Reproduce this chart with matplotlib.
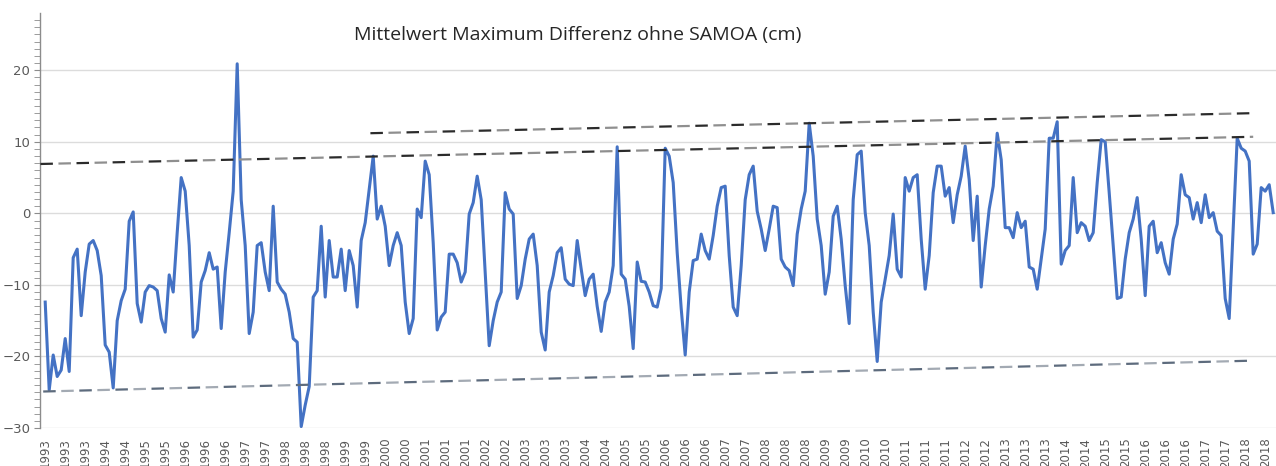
import matplotlib
matplotlib.use("Agg")
import matplotlib.pyplot as plt
import numpy as np

plt.rcParams['lines.scale_dashes'] = False

title = "Mittelwert Maximum Differenz ohne SAMOA (cm)"

# monthly values (cm), Feb 1993 .. Sep 2018
values = [
    -12.4, -24.7, -19.8, -22.8, -21.9, -17.5, -22.1, -6.2, -5.0, -14.3,
    -8.2, -4.3, -3.8, -5.2, -8.7, -18.4, -19.4, -24.4, -15.0, -12.2,
    -10.6, -1.1, 0.2, -12.6, -15.2, -11.0, -10.1, -10.3, -10.8, -14.7,
    -16.6, -8.6, -11.0, -2.7, 5.0, 3.1, -4.5, -17.3, -16.3, -9.6,
    -8.0, -5.5, -7.8, -7.5, -16.1, -8.2, -2.7, 3.1, 20.9, 1.9,
    -4.5, -16.8, -13.8, -4.5, -4.1, -8.2, -10.8, 1.0, -9.6, -10.6,
    -11.3, -13.8, -17.5, -18.0, -29.8, -26.8, -24.2, -11.7, -10.8, -1.8,
    -11.7, -3.8, -8.9, -8.9, -5.0, -10.8, -5.2, -7.3, -13.1, -3.8,
    -1.3, 3.3, 8.0, -0.8, 1.0, -1.8, -7.3, -4.5, -2.7, -4.5,
    -12.4, -16.8, -14.7, 0.6, -0.6, 7.3, 5.4, -4.1, -16.3, -14.5,
    -13.8, -5.7, -5.7, -6.9, -9.6, -8.2, -0.1, 1.5, 5.2, 1.9,
    -8.2, -18.5, -15.0, -12.4, -11.0, 2.9, 0.6, -0.1, -11.9, -10.1,
    -6.4, -3.6, -2.9, -7.3, -16.6, -19.1, -11.0, -8.7, -5.5, -4.8,
    -9.2, -9.9, -10.1, -3.8, -7.8, -11.5, -9.2, -8.5, -13.0, -16.5,
    -12.4, -11.0, -7.3, 9.3, -8.5, -9.2, -13.0, -18.9, -6.8, -9.5,
    -9.6, -11.0, -12.9, -13.1, -10.5, 9.1, 8.0, 4.3, -5.5, -13.3,
    -19.8, -11.0, -6.6, -6.4, -2.9, -5.2, -6.4, -3.1, 1.0, 3.6,
    3.8, -5.9, -13.1, -14.3, -7.3, 1.9, 5.4, 6.6, 0.3, -2.2,
    -5.2, -2.2, 1.0, 0.8, -6.4, -7.5, -8.0, -10.1, -2.9, 0.6,
    3.1, 12.6, 8.0, -0.8, -4.5, -11.3, -8.2, -0.4, 1.0, -3.6,
    -10.1, -15.4, 1.9, 8.2, 8.7, 0.1, -4.5, -13.8, -20.7, -12.4,
    -9.2, -5.9, -0.1, -7.8, -8.9, 5.0, 3.1, 5.0, 5.4, -3.6,
    -10.6, -5.9, 2.9, 6.6, 6.6, 2.4, 3.6, -1.3, 2.6, 5.2,
    9.4, 4.7, -3.8, 2.4, -10.3, -4.5, 0.6, 3.8, 11.2, 7.5,
    -2.0, -2.0, -3.4, 0.1, -2.0, -1.1, -7.5, -7.8, -10.6, -6.4,
    -2.2, 10.5, 10.5, 12.8, -7.1, -5.2, -4.5, 5.0, -2.7, -1.3,
    -1.8, -3.8, -2.7, 4.3, 10.3, 10.0, 2.9, -4.5, -11.9, -11.7,
    -6.4, -2.7, -0.8, 2.2, -3.6, -11.5, -1.8, -1.1, -5.5, -4.1,
    -6.9, -8.5, -3.6, -1.5, 5.4, 2.6, 2.2, -0.8, 1.5, -1.3,
    2.6, -0.6, 0.1, -2.5, -3.1, -11.9, -14.7, -2.0, 10.5, 9.1,
    8.7, 7.3, -5.7, -4.3, 3.6, 3.1, 4.0, 0.1,
]

# category labels shown every 5th month
tick_labels = [
    "1993", "1993", "1993", "1994", "1994", "1995", "1995", "1996", "1996", "1996",
    "1997", "1997", "1998", "1998", "1998", "1999", "1999", "2000", "2000", "2001",
    "2001", "2001", "2002", "2002", "2003", "2003", "2003", "2004", "2004", "2005",
    "2005", "2006", "2006", "2006", "2007", "2007", "2008", "2008", "2008", "2009",
    "2009", "2010", "2010", "2011", "2011", "2011", "2012", "2012", "2013", "2013",
    "2013", "2014", "2014", "2015", "2015", "2016", "2016", "2016", "2017", "2017",
    "2018", "2018",
]
tick_step = 5

# hand-drawn envelope lines (index, value)
upper_line_x = [-1.2, 302]
upper_line_y = [6.9, 10.7]
top_line_x = [81.3, 301.8]
top_line_y = [11.2, 14.0]
lower_line_x = [-0.5, 301]
lower_line_y = [-24.9, -20.6]

fig = plt.figure(figsize=(12.76, 4.66), dpi=100)
ax = fig.add_axes([40/1276, 1-428/466, 1-40/1276, (428-13)/466])

x = np.arange(len(values))
ax.plot(x, values, color="#4472C4", lw=2.2, solid_joinstyle="round", zorder=3)

def dashed(xs, ys, c1, c2):
    on, off = 9.0, 4.0
    period = 2 * (on + off)
    ax.plot(xs, ys, color=c1, lw=1.6, linestyle=(0, (on, period - on)), zorder=4)
    ax.plot(xs, ys, color=c2, lw=1.6, linestyle=(on + off, (on, period - on)), zorder=4)

dashed(upper_line_x, upper_line_y, "#2b2b2b", "#8f8f8f")
dashed(top_line_x, top_line_y, "#2b2b2b", "#8f8f8f")
dashed(lower_line_x, lower_line_y, "#5d6b7d", "#a3aab3")

ax.set_xlim(-1.3, len(values) - 0.3)
ax.set_ylim(-30, 28)

ax.set_yticks(np.arange(-30, 21, 10))
ax.set_yticks(np.arange(-30, 28, 1), minor=True)
ax.yaxis.grid(True, which="major", color="#dcdcdc", lw=1.0)
ax.set_axisbelow(True)

ticks = np.arange(0, len(values), tick_step)[:len(tick_labels)]
ax.set_xticks(ticks)
ax.set_xticklabels(tick_labels, rotation=90, fontsize=8.5, color="#595959", va="top")
ax.tick_params(axis="x", length=0, pad=7)
ax.tick_params(axis="y", which="major", length=4, color="#8c8c8c", labelsize=9.5,
               labelcolor="#595959", pad=3)
ax.tick_params(axis="y", which="minor", length=4, color="#8c8c8c")

for s in ["top", "right", "bottom"]:
    ax.spines[s].set_visible(False)
ax.spines["left"].set_color("#8c8c8c")
ax.spines["left"].set_linewidth(1.0)

fig.text(578/1276, 1-35/466, title, ha="center", va="center", fontsize=14,
         color="#262626", family="Open Sans")

fig.savefig("out.png", dpi=100)
